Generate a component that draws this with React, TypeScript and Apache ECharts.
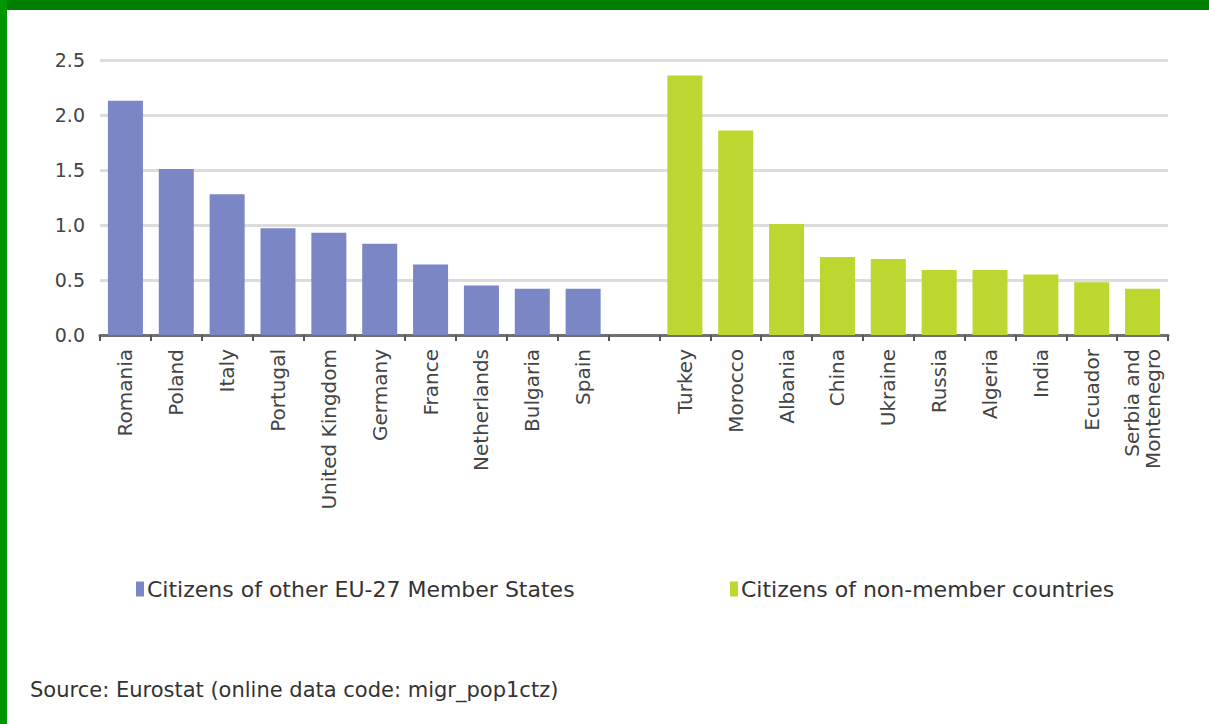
import React, { useEffect, useRef } from "react";
import * as echarts from "echarts";

const categories = [
  "Romania", "Poland", "Italy", "Portugal", "United Kingdom", "Germany", "France",
  "Netherlands", "Bulgaria", "Spain", "",
  "Turkey", "Morocco", "Albania", "China", "Ukraine", "Russia", "Algeria", "India",
  "Ecuador", "Serbia and\nMontenegro",
];

const euCitizens = [2.13, 1.51, 1.28, 0.97, 0.93, 0.83, 0.64, 0.45, 0.42, 0.42,
  null, null, null, null, null, null, null, null, null, null, null];

const nonMemberCitizens = [null, null, null, null, null, null, null, null, null, null, null,
  2.36, 1.86, 1.01, 0.71, 0.69, 0.59, 0.59, 0.55, 0.48, 0.42];

const yTicks = { min: 0, max: 2.5, interval: 0.5 };

const seriesNames = ["Citizens of other EU-27 Member States", "Citizens of non-member countries"];
const sourceText = "Source: Eurostat (online data code: migr_pop1ctz)";

const FONT = "DejaVu Sans";

export default function App() {
  const ref = useRef<HTMLDivElement>(null);
  useEffect(() => {
    if (!ref.current) return;
    const chart = echarts.init(ref.current, null, { renderer: "svg" });
    chart.setOption({
      animation: false,
      backgroundColor: "#ffffff",
      title: {
        text: sourceText,
        left: 25,
        top: 674,
        textStyle: { fontFamily: FONT, fontSize: 21, fontWeight: "normal", color: "#333" },
      },
      legend: [
        {
          data: [seriesNames[0]],
          left: 131,
          top: 573,
          icon: "rect",
          itemWidth: 8,
          itemHeight: 15,
          itemGap: 5,
          textStyle: { fontFamily: FONT, fontSize: 22, color: "#333", padding: [0, 0, 0, -2] },
        },
        {
          data: [seriesNames[1]],
          left: 725,
          top: 573,
          icon: "rect",
          itemWidth: 8,
          itemHeight: 15,
          itemGap: 5,
          textStyle: { fontFamily: FONT, fontSize: 22, color: "#333", padding: [0, 0, 0, -2] },
        },
      ],
      grid: { left: 100, right: 41, top: 60, bottom: 389, containLabel: false },
      xAxis: {
        type: "category",
        data: categories,
        axisLine: { show: true, lineStyle: { color: "#707070", width: 3 } },
        axisTick: { show: true, alignWithLabel: false, length: 6, lineStyle: { color: "#555", width: 2 } },
        axisLabel: {
          rotate: 90,
          interval: 0,
          margin: 14,
          fontFamily: FONT,
          fontSize: 20,
          color: "#444",
          lineHeight: 21,
        },
      },
      yAxis: {
        type: "value",
        min: yTicks.min,
        max: yTicks.max,
        interval: yTicks.interval,
        axisLine: { show: false },
        axisTick: { show: false },
        axisLabel: {
          margin: 15,
          fontFamily: FONT,
          fontSize: 19,
          color: "#444",
          formatter: (v: number) => v.toFixed(1),
        },
        splitLine: { show: true, lineStyle: { color: "#dcdcdc", width: 3 } },
      },
      series: [
        {
          name: seriesNames[0],
          type: "bar",
          data: euCitizens,
          barWidth: 35,
          barGap: "-100%",
          itemStyle: { color: "#7b86c4" },
        },
        {
          name: seriesNames[1],
          type: "bar",
          data: nonMemberCitizens,
          barWidth: 35,
          barGap: "-100%",
          itemStyle: { color: "#bed630" },
        },
      ],
      graphic: [
        { type: "rect", left: 0, top: 0, shape: { x: 0, y: 0, width: 1209, height: 10 }, style: { fill: "#008000" }, z: 100 },
        { type: "rect", left: 0, top: 0, shape: { x: 0, y: 0, width: 7, height: 724 }, style: { fill: "#009600" }, z: 100 },
      ],
    });
    return () => chart.dispose();
  }, []);
  return (
    <div
      ref={ref}
      style={{ position: "fixed", left: 0, top: 0, width: 1209, height: 724 }}
    />
  );
}
